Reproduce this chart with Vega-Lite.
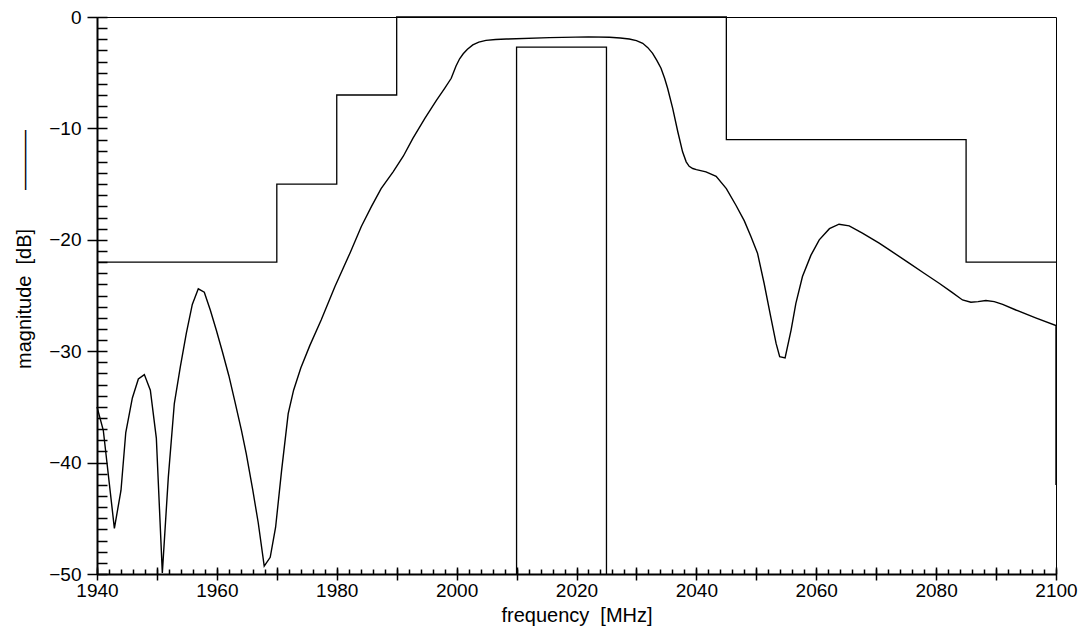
{
  "$schema": "https://vega.github.io/schema/vega-lite/v6.json",
  "width": 959,
  "height": 557,
  "autosize": {"type": "none"},
  "padding": {"left": 97, "top": 17, "right": 29, "bottom": 61},
  "background": "white",
  "config": {
    "view": {"stroke": "black", "strokeWidth": 1},
    "font": "Liberation Sans",
    "axis": {"grid": false, "labelFlush": false, "labelOverlap": false, "domainColor": "black", "tickColor": "black", "labelColor": "black", "titleColor": "black", "labelFont": "Liberation Sans", "titleFont": "Liberation Sans", "titleFontWeight": "normal"}
  },
  "datasets": {
    "response": [
      {"i": 1, "f": 1940.0, "dB": -35.0},
      {"i": 2, "f": 1941.05, "dB": -37.1},
      {"i": 3, "f": 1942.9, "dB": -45.9},
      {"i": 4, "f": 1944.0, "dB": -42.5},
      {"i": 5, "f": 1944.8, "dB": -37.3},
      {"i": 6, "f": 1945.9, "dB": -34.2},
      {"i": 7, "f": 1946.9, "dB": -32.5},
      {"i": 8, "f": 1947.9, "dB": -32.1},
      {"i": 9, "f": 1948.9, "dB": -33.5},
      {"i": 10, "f": 1949.9, "dB": -37.8},
      {"i": 11, "f": 1950.9, "dB": -49.9},
      {"i": 12, "f": 1951.9, "dB": -41.3},
      {"i": 13, "f": 1952.9, "dB": -34.7},
      {"i": 14, "f": 1953.9, "dB": -31.4},
      {"i": 15, "f": 1954.9, "dB": -28.4},
      {"i": 16, "f": 1955.9, "dB": -25.8},
      {"i": 17, "f": 1956.9, "dB": -24.4},
      {"i": 18, "f": 1957.9, "dB": -24.7},
      {"i": 19, "f": 1958.9, "dB": -26.3},
      {"i": 20, "f": 1959.9, "dB": -28.1},
      {"i": 21, "f": 1960.9, "dB": -30.0},
      {"i": 22, "f": 1962.0, "dB": -32.2},
      {"i": 23, "f": 1963.0, "dB": -34.5},
      {"i": 24, "f": 1964.1, "dB": -37.1},
      {"i": 25, "f": 1964.9, "dB": -39.2},
      {"i": 26, "f": 1966.0, "dB": -42.5},
      {"i": 27, "f": 1966.9, "dB": -45.4},
      {"i": 28, "f": 1967.9, "dB": -49.3},
      {"i": 29, "f": 1968.9, "dB": -48.5},
      {"i": 30, "f": 1969.8, "dB": -45.8},
      {"i": 31, "f": 1970.8, "dB": -40.7},
      {"i": 32, "f": 1971.9, "dB": -35.6},
      {"i": 33, "f": 1972.8, "dB": -33.5},
      {"i": 34, "f": 1974.0, "dB": -31.5},
      {"i": 35, "f": 1975.5, "dB": -29.5},
      {"i": 36, "f": 1977.4, "dB": -27.2},
      {"i": 37, "f": 1979.7, "dB": -24.2},
      {"i": 38, "f": 1982.2, "dB": -21.2},
      {"i": 39, "f": 1984.1, "dB": -18.8},
      {"i": 40, "f": 1985.8, "dB": -17.0},
      {"i": 41, "f": 1987.4, "dB": -15.4},
      {"i": 42, "f": 1989.4, "dB": -13.9},
      {"i": 43, "f": 1991.1, "dB": -12.5},
      {"i": 44, "f": 1992.7, "dB": -10.9},
      {"i": 45, "f": 1994.7, "dB": -9.1},
      {"i": 46, "f": 1996.6, "dB": -7.5},
      {"i": 47, "f": 1998.0, "dB": -6.4},
      {"i": 48, "f": 1999.1, "dB": -5.5},
      {"i": 49, "f": 1999.9, "dB": -4.4},
      {"i": 50, "f": 2000.5, "dB": -3.75},
      {"i": 51, "f": 2001.1, "dB": -3.3},
      {"i": 52, "f": 2001.8, "dB": -2.9},
      {"i": 53, "f": 2002.7, "dB": -2.5},
      {"i": 54, "f": 2003.7, "dB": -2.25},
      {"i": 55, "f": 2004.9, "dB": -2.1},
      {"i": 56, "f": 2006.5, "dB": -2.02},
      {"i": 57, "f": 2008.3, "dB": -1.98},
      {"i": 58, "f": 2015.5, "dB": -1.85},
      {"i": 59, "f": 2022.0, "dB": -1.78},
      {"i": 60, "f": 2025.5, "dB": -1.82},
      {"i": 61, "f": 2027.3, "dB": -1.88},
      {"i": 62, "f": 2028.8, "dB": -1.97},
      {"i": 63, "f": 2030.0, "dB": -2.12},
      {"i": 64, "f": 2031.05, "dB": -2.36},
      {"i": 65, "f": 2031.9, "dB": -2.75},
      {"i": 66, "f": 2032.7, "dB": -3.26},
      {"i": 67, "f": 2033.4, "dB": -3.9},
      {"i": 68, "f": 2034.1, "dB": -4.6},
      {"i": 69, "f": 2034.7, "dB": -5.5},
      {"i": 70, "f": 2035.2, "dB": -6.4},
      {"i": 71, "f": 2036.05, "dB": -8.2},
      {"i": 72, "f": 2036.9, "dB": -10.3},
      {"i": 73, "f": 2037.7, "dB": -12.1},
      {"i": 74, "f": 2038.3, "dB": -13.0},
      {"i": 75, "f": 2038.8, "dB": -13.4},
      {"i": 76, "f": 2039.4, "dB": -13.6},
      {"i": 77, "f": 2040.0, "dB": -13.7},
      {"i": 78, "f": 2041.6, "dB": -13.9},
      {"i": 79, "f": 2043.3, "dB": -14.3},
      {"i": 80, "f": 2045.0, "dB": -15.4},
      {"i": 81, "f": 2046.6, "dB": -16.9},
      {"i": 82, "f": 2048.0, "dB": -18.3},
      {"i": 83, "f": 2049.1, "dB": -19.7},
      {"i": 84, "f": 2050.2, "dB": -21.2},
      {"i": 85, "f": 2051.3, "dB": -23.9},
      {"i": 86, "f": 2052.4, "dB": -26.9},
      {"i": 87, "f": 2053.3, "dB": -29.3},
      {"i": 88, "f": 2053.9, "dB": -30.5},
      {"i": 89, "f": 2054.8, "dB": -30.6},
      {"i": 90, "f": 2055.8, "dB": -28.1},
      {"i": 91, "f": 2056.6, "dB": -25.7},
      {"i": 92, "f": 2057.7, "dB": -23.3},
      {"i": 93, "f": 2059.1, "dB": -21.4},
      {"i": 94, "f": 2060.5, "dB": -20.0},
      {"i": 95, "f": 2062.2, "dB": -19.0},
      {"i": 96, "f": 2063.8, "dB": -18.6},
      {"i": 97, "f": 2065.5, "dB": -18.75},
      {"i": 98, "f": 2067.7, "dB": -19.4},
      {"i": 99, "f": 2070.5, "dB": -20.3},
      {"i": 100, "f": 2072.2, "dB": -20.9},
      {"i": 101, "f": 2075.5, "dB": -22.1},
      {"i": 102, "f": 2078.0, "dB": -23.0},
      {"i": 103, "f": 2080.5, "dB": -23.9},
      {"i": 104, "f": 2082.6, "dB": -24.7},
      {"i": 105, "f": 2084.4, "dB": -25.4},
      {"i": 106, "f": 2085.8, "dB": -25.6},
      {"i": 107, "f": 2087.0, "dB": -25.55},
      {"i": 108, "f": 2088.3, "dB": -25.45},
      {"i": 109, "f": 2089.7, "dB": -25.55},
      {"i": 110, "f": 2091.1, "dB": -25.8},
      {"i": 111, "f": 2093.3, "dB": -26.3},
      {"i": 112, "f": 2096.6, "dB": -27.0},
      {"i": 113, "f": 2100.0, "dB": -27.7},
      {"i": 114, "f": 2100.0, "dB": -42.0}
    ],
    "maskUpper": [
      {"i": 1, "f": 1940, "dB": -22},
      {"i": 2, "f": 1970, "dB": -22},
      {"i": 3, "f": 1970, "dB": -15},
      {"i": 4, "f": 1980, "dB": -15},
      {"i": 5, "f": 1980, "dB": -7},
      {"i": 6, "f": 1990, "dB": -7},
      {"i": 7, "f": 1990, "dB": 0},
      {"i": 8, "f": 2045, "dB": 0},
      {"i": 9, "f": 2045, "dB": -11},
      {"i": 10, "f": 2085, "dB": -11},
      {"i": 11, "f": 2085, "dB": -22},
      {"i": 12, "f": 2100, "dB": -22}
    ],
    "maskLower": [
      {"i": 1, "f": 2010, "dB": -50},
      {"i": 2, "f": 2010, "dB": -2.7},
      {"i": 3, "f": 2025, "dB": -2.7},
      {"i": 4, "f": 2025, "dB": -50}
    ]
  },
  "layer": [
    {
      "data": {"name": "response"},
      "mark": {"type": "line", "color": "black", "strokeWidth": 1.4},
      "encoding": {
        "x": {"field": "f", "type": "quantitative", "scale": {"domain": [1940, 2100], "nice": false, "zero": false},
          "axis": {"orient": "bottom", "values": [1940,1942,1944,1946,1948,1950,1952,1954,1956,1958,1960,1962,1964,1966,1968,1970,1972,1974,1976,1978,1980,1982,1984,1986,1988,1990,1992,1994,1996,1998,2000,2002,2004,2006,2008,2010,2012,2014,2016,2018,2020,2022,2024,2026,2028,2030,2032,2034,2036,2038,2040,2042,2044,2046,2048,2050,2052,2054,2056,2058,2060,2062,2064,2066,2068,2070,2072,2074,2076,2078,2080,2082,2084,2086,2088,2090,2092,2094,2096,2098,2100],
            "tickSize": -5, "tickWidth": 1.5, "labels": false, "title": null, "domain": true, "domainWidth": 2}},
        "y": {"field": "dB", "type": "quantitative", "scale": {"domain": [-50, 0], "nice": false, "zero": false},
          "axis": {"orient": "left", "values": [-50,-49,-48,-47,-46,-45,-44,-43,-42,-41,-40,-39,-38,-37,-36,-35,-34,-33,-32,-31,-30,-29,-28,-27,-26,-25,-24,-23,-22,-21,-20,-19,-18,-17,-16,-15,-14,-13,-12,-11,-10,-9,-8,-7,-6,-5,-4,-3,-2,-1,0],
            "tickSize": -10, "tickWidth": 1.5, "labels": false, "title": null, "domain": true, "domainWidth": 2}},
        "order": {"field": "i", "type": "quantitative"}
      }
    },
    {
      "data": {"name": "maskUpper"},
      "mark": {"type": "line", "color": "black", "strokeWidth": 1.3},
      "encoding": {
        "x": {"field": "f", "type": "quantitative",
          "axis": {"orient": "bottom", "values": [1940,1950,1960,1970,1980,1990,2000,2010,2020,2030,2040,2050,2060,2070,2080,2090,2100],
            "tickSize": 6, "tickWidth": 1.5, "domain": false, "labelFontSize": 19, "labelPadding": 1, "format": "d",
            "labelExpr": "datum.value % 20 === 0 ? datum.label : ''",
            "title": "frequency\u00a0\u00a0[MHz]", "titleFontSize": 20, "titlePadding": 5}},
        "y": {"field": "dB", "type": "quantitative",
          "axis": {"orient": "left", "values": [-50,-40,-30,-20,-10,0], "tickSize": 10, "tickWidth": 1.5, "domain": false,
            "labelFontSize": 19, "labelPadding": 6, "format": "d",
            "title": "magnitude\u00a0\u00a0[dB]\u00a0\u00a0\u00a0\u00a0\u00a0\u00a0\u00a0———", "titleFontSize": 20, "titlePadding": 14, "titleY": 232}},
        "order": {"field": "i", "type": "quantitative"}
      }
    },
    {
      "data": {"name": "maskLower"},
      "mark": {"type": "line", "color": "black", "strokeWidth": 1.3},
      "encoding": {
        "x": {"field": "f", "type": "quantitative",
          "axis": {"orient": "bottom", "values": [1940,1950,1960,1970,1980,1990,2000,2010,2020,2030,2040,2050,2060,2070,2080,2090,2100],
            "tickSize": -7, "tickWidth": 1.5, "domain": false, "labels": false, "title": null}},
        "y": {"field": "dB", "type": "quantitative", "axis": null},
        "order": {"field": "i", "type": "quantitative"}
      }
    }
  ],
  "resolve": {"axis": {"x": "independent", "y": "independent"}}
}
